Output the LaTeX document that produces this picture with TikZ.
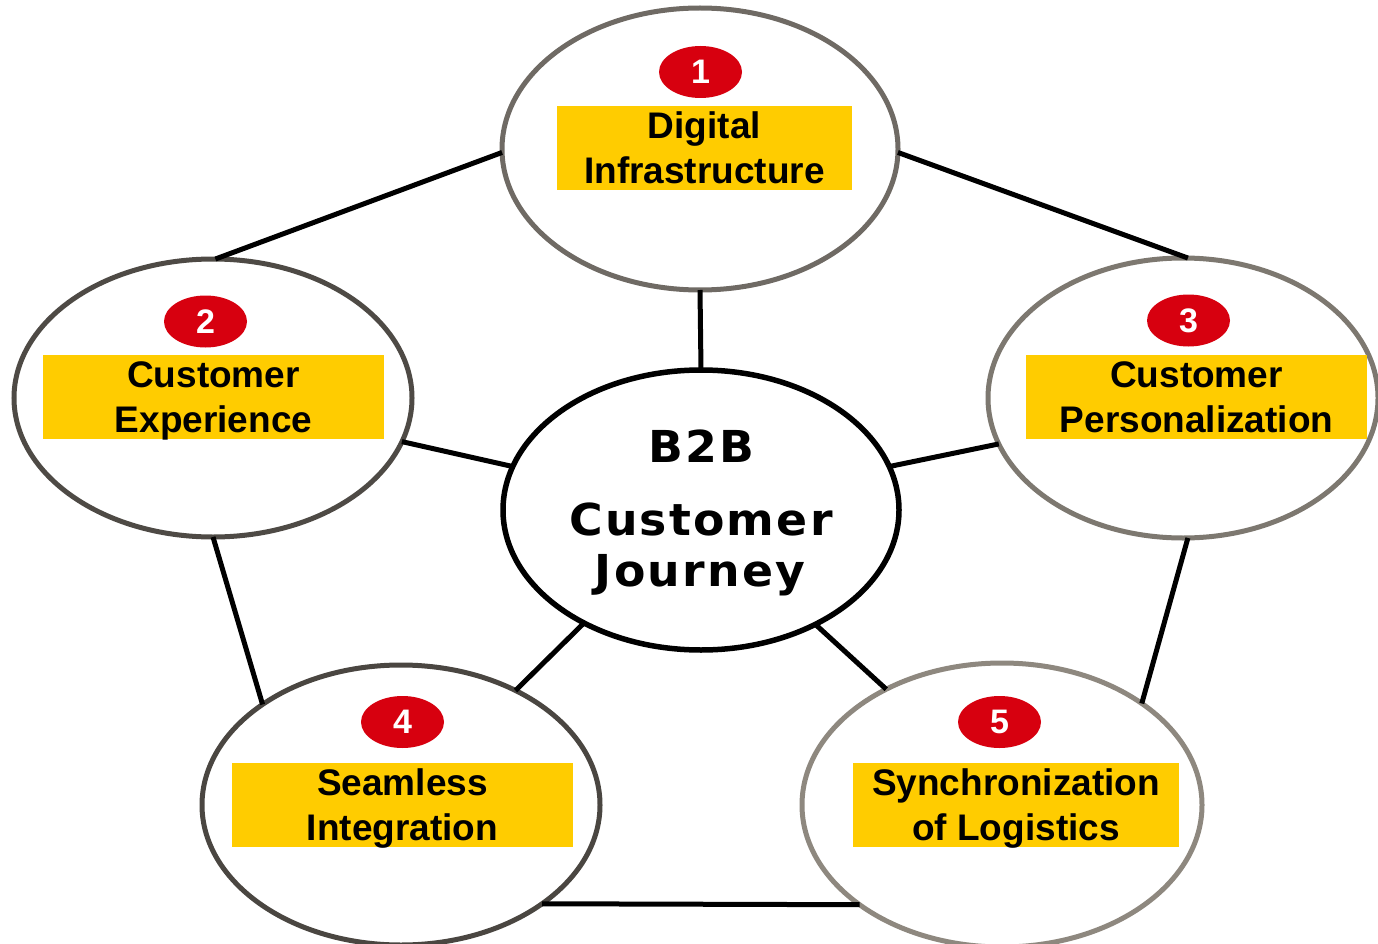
\documentclass[tikz,border=0pt]{standalone}
\usepackage{fontspec}
\setmainfont{Liberation Sans}
\newfontfamily\hubfont{DejaVu Sans}[FakeStretch=1.04,LetterSpace=5]
\usetikzlibrary{shapes.geometric}

\definecolor{badgered}{HTML}{D7000F}
\definecolor{labelgold}{HTML}{FFCC00}
\definecolor{rimA}{HTML}{6F6A64}
\definecolor{rimB}{HTML}{4E4A45}
\definecolor{rimC}{HTML}{7D7870}
\definecolor{rimD}{HTML}{4A4641}
\definecolor{rimE}{HTML}{8E887F}

\begin{document}
\begin{tikzpicture}[x=1pt,y=-1pt,
  topic/.style args={#1/#2/#3}{ellipse, draw=#3, line width=5pt, fill=white,
    inner sep=0pt, outer sep=0pt, minimum width=#1pt, minimum height=#2pt},
  hub/.style={ellipse, draw=black, line width=5.5pt, fill=white,
    inner sep=0pt, outer sep=0pt, minimum width=396pt, minimum height=280pt},
  badge/.style={ellipse, fill=badgered, inner sep=0pt, outer sep=0pt,
    minimum width=83pt, minimum height=52pt, text=white,
    font=\bfseries\fontsize{34}{34}\selectfont},
  labelbox/.style args={#1/#2}{rectangle, fill=labelgold, inner sep=0pt,
    minimum width=#1pt, minimum height=#2pt},
  labeltext/.style={align=center, inner sep=0pt, yshift=-4pt,
    font=\bfseries\fontsize{37}{45}\selectfont},
  hubtext/.style={anchor=base, inner sep=0pt,
    font=\hubfont\bfseries\fontsize{44}{50}\selectfont},
  link/.style={draw=black, line width=5pt}
]
\useasboundingbox (0,0) rectangle (1378,944);

% outer topic ellipses and the central hub
\node[topic=396/282/rimA] (e1) at (700,149) {};
\node[topic=398/278/rimB] (e2) at (213,398) {};
\node[topic=390/280/rimC] (e3) at (1183,398) {};
\node[topic=398/280/rimD] (e4) at (401,805) {};
\node[topic=400/284/rimE] (e5) at (1002,805) {};
\node[hub] (c) at (701,510) {};

% connectors
\draw[link] (e1.181) -- (e2.89);
\draw[link] (e1.359) -- (e3.88);
\draw[link] (e1.270) -- (c.90);
\draw[link] (e2.347) -- (c.167);
\draw[link] (e3.194) -- (c.13);
\draw[link] (e2.270) -- (e4.144);
\draw[link] (e3.272) -- (e5.36);
\draw[link] (c.224) -- (e4.45);
\draw[link] (c.315) -- (e5.135);
\draw[link] (e4.325) -- (e5.215);

% hub title
\node[hubtext] (h1) at (701,462) {B2B};
\node[hubtext] (h2) at (701,535) {Customer};
\node[hubtext] (h3) at (700,586) {Journey};

% numbered badges
\node[badge] (n1) at (700.5,72) {1};
\node[badge] (n2) at (205.5,321.5) {2};
\node[badge] (n3) at (1188.5,320.5) {3};
\node[badge] (n4) at (402.5,722) {4};
\node[badge] (n5) at (999.5,722) {5};

% highlighted topic labels
\node[labelbox=295/84] (b1) at (704.5,148) {};
\node[labelbox=341/84] (b2) at (213.5,397) {};
\node[labelbox=341/84] (b3) at (1196.5,397) {};
\node[labelbox=341/84] (b4) at (402.5,805) {};
\node[labelbox=326/84] (b5) at (1016,805) {};

\node[labeltext] (t1) at (b1.center) {\vphantom{Dg}Digital\\\vphantom{Dg}Infrastructure};
\node[labeltext] (t2) at (b2.center) {\vphantom{Dg}Customer\\\vphantom{Dg}Experience};
\node[labeltext] (t3) at (b3.center) {\vphantom{Dg}Customer\\\vphantom{Dg}Personalization};
\node[labeltext] (t4) at (b4.center) {\vphantom{Dg}Seamless\\\vphantom{Dg}Integration};
\node[labeltext] (t5) at (b5.center) {\vphantom{Dg}Synchronization\\\vphantom{Dg}of Logistics};
\end{tikzpicture}
\end{document}
